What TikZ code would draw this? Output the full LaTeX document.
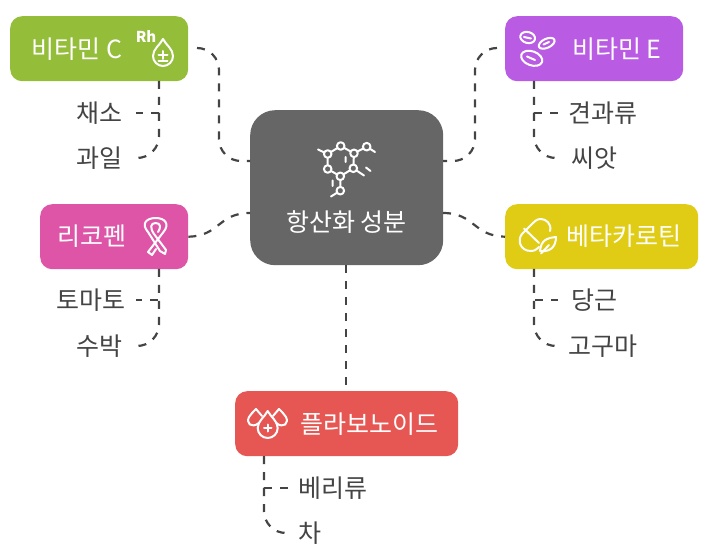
\documentclass[tikz,border=0pt]{standalone}
\usepackage{fontspec}
\setmainfont{Noto Sans CJK KR}
\usetikzlibrary{calc,positioning}

\definecolor{coregray}{HTML}{666666}
\definecolor{vitcgreen}{HTML}{94BD3A}
\definecolor{vitepurple}{HTML}{B95CE3}
\definecolor{lycopink}{HTML}{DE55A8}
\definecolor{betayellow}{HTML}{E0CC14}
\definecolor{flavored}{HTML}{E65753}
\definecolor{linkgray}{HTML}{444444}

\tikzset{
  box/.style={anchor=north west,rounded corners=12pt,inner sep=0pt,minimum height=65pt},
  title/.style={text=white,inner sep=0pt,font=\fontsize{25}{30}\selectfont},
  leaf/.style={text=linkgray,inner ysep=0pt,inner xsep=10pt,font=\fontsize{25}{30}\selectfont},
  link/.style={draw=linkgray,line width=2.2pt,dash pattern=on 8pt off 8pt,rounded corners=22pt},
  stub/.style={draw=linkgray,line width=2.2pt,dash pattern=on 8pt off 8pt},
  iconline/.style={draw=white,line width=2pt,line cap=round,line join=round},
  dropicon/.pic={\draw[iconline] (0,-17) .. controls (3,-11) and (10,-7) .. (10,0)
    .. controls (10,5.5) and (5.5,10) .. (0,10) .. controls (-5.5,10) and (-10,5.5) .. (-10,0)
    .. controls (-10,-7) and (-3,-11) .. (0,-17) -- cycle;}
}

\begin{document}
\begin{tikzpicture}[x=1pt,y=-1pt]
\useasboundingbox (0,0) rectangle (710,556);

% boxes
\node[box,fill=coregray,minimum width=193pt,minimum height=155pt,rounded corners=25pt] (core) at (250,110) {};
\node[box,fill=vitcgreen,minimum width=178pt] (vitc) at (10,16) {};
\node[box,fill=vitepurple,minimum width=178pt] (vite) at (505,16) {};
\node[box,fill=lycopink,minimum width=148pt] (lyco) at (40,204) {};
\node[box,fill=betayellow,minimum width=193pt] (beta) at (505,204) {};
\node[box,fill=flavored,minimum width=223pt] (flavo) at (235,391) {};

% titles
\node[title] (coretext) at (346.5,222) {항산화 성분};
\node[title] (vitctext) at (77,49) {비타민 C};
\node[title] (vitetext) at (617,49) {비타민 E};
\node[title] (lycotext) at (92,236) {리코펜};
\node[title] (betatext) at (624,236) {베타카로틴};
\node[title] (flavotext) at (369,424) {플라보노이드};

% leaves
\node[leaf,anchor=east,inner xsep=13pt] (veg) at (136,113) {채소};
\node[leaf,anchor=east,inner xsep=13pt] (fruit) at (136,158) {과일};
\node[leaf,anchor=west] (nuts) at (558,113) {견과류};
\node[leaf,anchor=west,inner xsep=13pt] (seed) at (558,158) {씨앗};
\node[leaf,anchor=east,inner xsep=10pt] (tomato) at (136,300) {토마토};
\node[leaf,anchor=east,inner xsep=13pt] (melon) at (136,346) {수박};
\node[leaf,anchor=west,inner xsep=13pt] (carrot) at (558,300) {당근};
\node[leaf,anchor=west] (yam) at (558,346) {고구마};
\node[leaf,anchor=west] (berry) at (288,488) {베리류};
\node[leaf,anchor=west] (tea) at (288,533) {차};

% ends of the links
\coordinate (vitcout) at (197,48);
\coordinate (viteout) at (497,48);
\coordinate (vitcin) at (250,161);
\coordinate (vitein) at (443,161);
\coordinate (lycoin) at (250,213);
\coordinate (betain) at (443,213);
\coordinate (vitcroot) at (159,81);
\coordinate (viteroot) at (534,81);
\coordinate (lycoroot) at (159,269);
\coordinate (betaroot) at (534,269);
\coordinate (flavoroot) at (264,456);
\coordinate (corefoot) at (346,265);
\coordinate (flavotop) at (346,391);
\coordinate (vitcbend) at (219,100);
\coordinate (vitebend) at (475,100);

% core links
\draw[link] (vitcout) -| (vitcbend) |- (vitcin);
\draw[link] (viteout) -| (vitebend) |- (vitein);
\draw[link] (lyco.east) .. controls (220,236) and (218,213) .. (lycoin);
\draw[link] (betain) .. controls (475,213) and (473,236) .. (beta.west);
\draw[link] (corefoot) -- (flavotop);

% leaf links
\draw[stub] (vitcroot) |- (veg.east);
\draw[link] (vitcroot) |- (fruit.east);
\draw[stub] (viteroot) |- (nuts.west);
\draw[link] (viteroot) |- (seed.west);
\draw[stub] (lycoroot) |- (tomato.east);
\draw[link] (lycoroot) |- (melon.east);
\draw[stub] (betaroot) |- (carrot.west);
\draw[link] (betaroot) |- (yam.west);
\draw[stub] (flavoroot) |- (berry.west);
\draw[link] (flavoroot) |- (tea.west);

% molecule
\draw[iconline] (340.7,146) -- (327.7,154) -- (327.7,169) -- (340.3,176.3) -- (353.3,168.3) -- (354,153.3) -- cycle;
\draw[iconline] (340.3,176.3) -- (340.3,190.7) (340.3,190.7) -- (331,196.5);
\draw[iconline] (354,153.3) -- (366.7,146.7) (327.7,154) -- (318,149.5);
\draw[iconline] (353.3,168.3) -- (364,175.5) (366.7,146.7) -- (375,152);
\draw[iconline] (345.5,157) -- (345.5,162) (366,167.5) -- (370.5,171) (332.5,180.5) -- (332.5,186);
\foreach \mx/\my in {340.7/146,327.7/154,354/153.3,327.7/169,353.3/168.3,340.3/176.3,340.3/190.7,366.7/146.7}
  \draw[iconline,fill=coregray] (\mx,\my) circle (3.8);

% rh drop
\node[text=white,inner sep=0pt,font=\fontsize{15}{16}\bfseries\selectfont] (rhtext) at (146,37) {Rh};
\pic at (163,56) {dropicon};
\draw[iconline] (158.5,55) -- (167.5,55) (163,51) -- (163,59) (158.5,61.5) -- (167.5,61.5);

% cells
\draw[iconline,rotate around={-15:(527.7,37.5)}] (527.7,37.5) ellipse [x radius=7.5,y radius=5.5];
\draw[iconline,rotate around={25:(546.7,43.3)}] (546.7,43.3) ellipse [x radius=8.5,y radius=4.5];
\draw[iconline,rotate around={-20:(531.7,58.3)}] (531.7,58.3) ellipse [x radius=11,y radius=7];
\draw[iconline] (524,37) -- (531,38.5) (543.5,44.5) -- (549,42) (527,56.5) -- (535,60);

% pill
\draw[iconline] (550,231) .. controls (552,224) and (546,219) .. (541,219)
  .. controls (537,219) and (535,221) .. (533,223) -- (522,234)
  .. controls (517,240) and (520,251) .. (531,251) .. controls (535,251) and (537,249) .. (539,247);
\draw[iconline] (524,228.5) -- (539,243);
\draw[iconline] (540,251) .. controls (541,240) and (547,238) .. (556,237) .. controls (556,246) and (551,252) .. (541,251);
\draw[iconline] (541,253.5) -- (549,245);

% ribbon
\draw[iconline] (148,252) -- (163.5,232) .. controls (170,224) and (165,218) .. (155.7,218)
  .. controls (146,218) and (141,224) .. (148,232) -- (160,251) -- (165,254) -- (166,250)
  -- (154,234) .. controls (150,228) and (150,223) .. (155.7,223)
  .. controls (161,223) and (161,228) .. (158,232);
\draw[iconline] (148,252) -- (152,255) -- (156,249);

% drops
\pic at (267.7,428) {dropicon};
\draw[iconline] (259,423) .. controls (251,429) and (246,423) .. (249,417) .. controls (251,414) and (253,412) .. (256,409) .. controls (258,411) and (260,414) .. (262,416);
\draw[iconline] (276,423) .. controls (284,429) and (289,423) .. (286,417) .. controls (284,414) and (282,412) .. (279,409) .. controls (277,411) and (275,414) .. (273,416);
\draw[iconline] (264,428) -- (271.5,428) (267.7,424.5) -- (267.7,431.5);
\end{tikzpicture}
\end{document}
